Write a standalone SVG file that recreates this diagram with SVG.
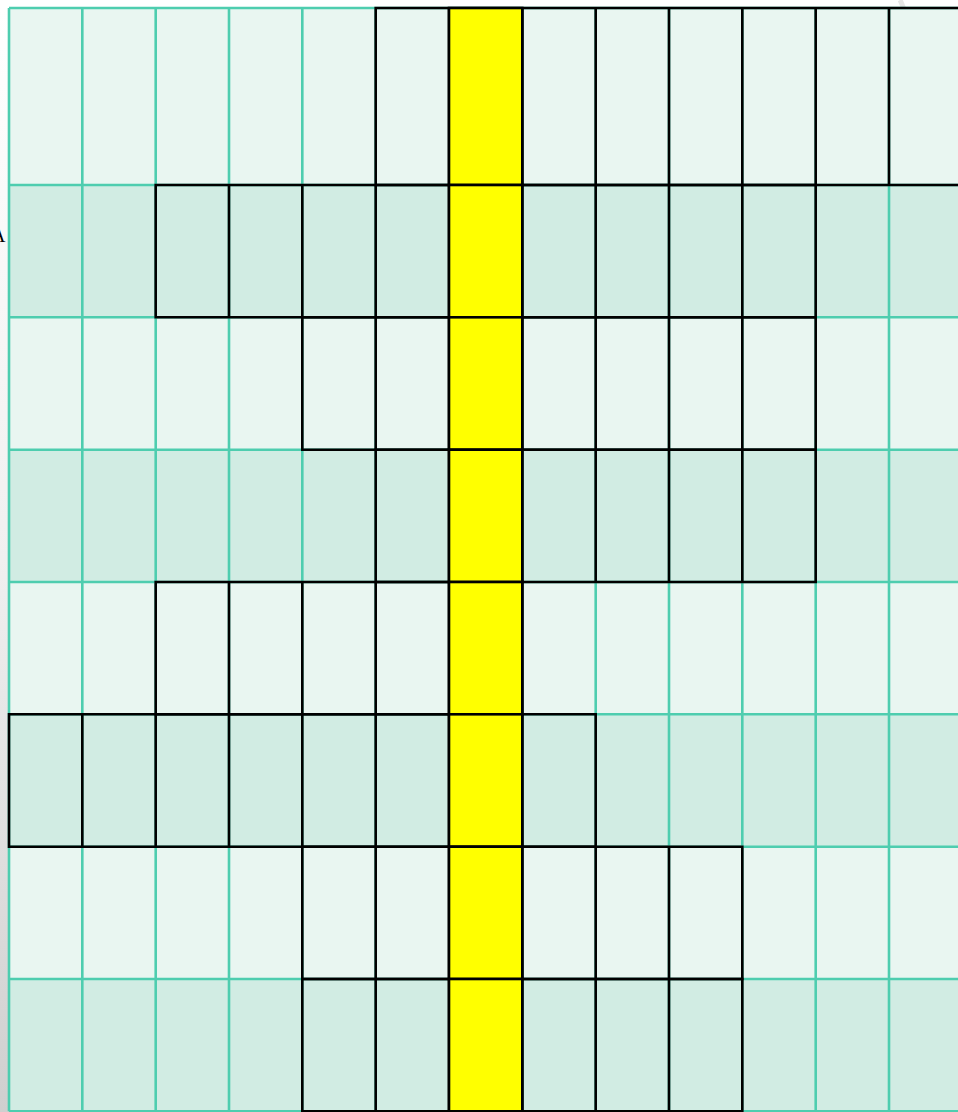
<svg xmlns="http://www.w3.org/2000/svg" width="958" height="1112" viewBox="0 0 958 1112">
<defs>
<linearGradient id="sh" x1="0" y1="0" x2="0" y2="1">
<stop offset="0" stop-color="#ffffff"/>
<stop offset="0.5" stop-color="#f0f0f0"/>
<stop offset="1" stop-color="#cfcfcf"/>
</linearGradient>
<style>
.l{fill:#E9F6F1}
.d{fill:#D1ECE3}
.t{fill:none;stroke:#4ECDAF;stroke-width:2.6}
.k{fill:none;stroke:#000;stroke-width:2.6}
.y{fill:#FFFF00;stroke:#000;stroke-width:2.6}
</style>
</defs>
<rect width="958" height="1112" fill="#fff"/>
<rect x="0" y="8" width="9" height="1104" fill="url(#sh)"/>
<path d="M900 0 Q906 10 903 20" fill="none" stroke="#e6e6e6" stroke-width="5"/>
<text x="-9" y="242" font-family="Liberation Serif, serif" font-size="20" fill="#000">A</text>
<g id="fills">
<rect class="l" x="9" y="8" width="960" height="177"/>
<rect class="d" x="9" y="185" width="960" height="132.3"/>
<rect class="l" x="9" y="317.3" width="960" height="132.4"/>
<rect class="d" x="9" y="449.7" width="960" height="132.3"/>
<rect class="l" x="9" y="582" width="960" height="132.3"/>
<rect class="d" x="9" y="714.3" width="960" height="132.4"/>
<rect class="l" x="9" y="846.7" width="960" height="132.3"/>
<rect class="d" x="9" y="979" width="960" height="132.3"/>
</g>
<g id="teal">
<path class="t" d="M9 8V1111.3 M82.3 8V1111.3 M155.7 8V1111.3 M229 8V1111.3 M302.3 8V1111.3 M375.7 8V1111.3 M522.3 8V1111.3 M595.7 8V1111.3 M669 8V1111.3 M742.3 8V1111.3 M815.7 8V1111.3 M889 8V1111.3 M9 8H958 M9 185H958 M9 317.3H958 M9 449.7H958 M9 582H958 M9 714.3H958 M9 846.7H958 M9 979H958 M9 1111.3H958"/>
</g>
<g id="black">
<!-- row 0: cols 5-12 -->
<path class="k" d="M375.7 8H962.3V185H375.7Z M449 8V185 M522.3 8V185 M595.7 8V185 M669 8V185 M742.3 8V185 M815.7 8V185 M889 8V185"/>
<!-- row 1: cols 2-10 -->
<path class="k" d="M155.7 185H815.7V317.3H155.7Z M229 185V317.3 M302.3 185V317.3 M375.7 185V317.3 M449 185V317.3 M522.3 185V317.3 M595.7 185V317.3 M669 185V317.3 M742.3 185V317.3"/>
<!-- row 2: cols 4-10 -->
<path class="k" d="M302.3 317.3H815.7V449.7H302.3Z M375.7 317.3V449.7 M449 317.3V449.7 M522.3 317.3V449.7 M595.7 317.3V449.7 M669 317.3V449.7 M742.3 317.3V449.7"/>
<!-- row 3: cols 5-10 -->
<path class="k" d="M375.7 449.7H815.7V582H375.7Z M449 449.7V582 M522.3 449.7V582 M595.7 449.7V582 M669 449.7V582 M742.3 449.7V582"/>
<!-- row 4: cols 2-6 -->
<path class="k" d="M155.7 582H522.3V714.3H155.7Z M229 582V714.3 M302.3 582V714.3 M375.7 582V714.3 M449 582V714.3"/>
<!-- row 5: cols 0-7 -->
<path class="k" d="M9 714.3H595.7V846.7H9Z M82.3 714.3V846.7 M155.7 714.3V846.7 M229 714.3V846.7 M302.3 714.3V846.7 M375.7 714.3V846.7 M449 714.3V846.7 M522.3 714.3V846.7"/>
<!-- row 6: cols 4-9 -->
<path class="k" d="M302.3 846.7H742.3V979H302.3Z M375.7 846.7V979 M449 846.7V979 M522.3 846.7V979 M595.7 846.7V979 M669 846.7V979"/>
<!-- row 7: cols 4-9 -->
<path class="k" d="M302.3 979H742.3V1111.3H302.3Z M375.7 979V1111.3 M449 979V1111.3 M522.3 979V1111.3 M595.7 979V1111.3 M669 979V1111.3"/>
</g>
<g id="yellow">
<rect class="y" x="449" y="8" width="73.3" height="177"/>
<rect class="y" x="449" y="185" width="73.3" height="132.3"/>
<rect class="y" x="449" y="317.3" width="73.3" height="132.4"/>
<rect class="y" x="449" y="449.7" width="73.3" height="132.3"/>
<rect class="y" x="449" y="582" width="73.3" height="132.3"/>
<rect class="y" x="449" y="714.3" width="73.3" height="132.4"/>
<rect class="y" x="449" y="846.7" width="73.3" height="132.3"/>
<rect class="y" x="449" y="979" width="73.3" height="132.3"/>
</g>
</svg>
